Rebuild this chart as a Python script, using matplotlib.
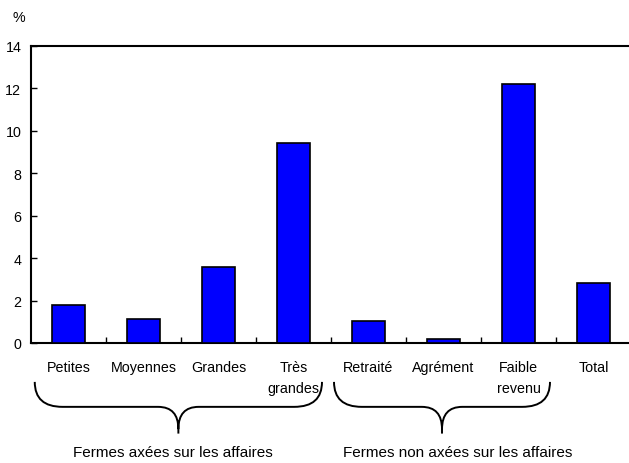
import numpy as np
import matplotlib.pyplot as plt
from matplotlib.path import Path
from matplotlib.patches import PathPatch
from matplotlib.transforms import blended_transform_factory

plt.rcParams['font.family'] = ['Liberation Sans', 'DejaVu Sans']

categories = ["Petites", "Moyennes", "Grandes", "Très\ngrandes",
              "Retraité", "Agrément", "Faible\nrevenu", "Total"]
values = [1.8, 1.15, 3.6, 9.45, 1.05, 0.2, 12.2, 2.85]
yticks = [0, 2, 4, 6, 8, 10, 12, 14]

# groupes sous l'axe: (debut, fin, centre du texte, texte)
groups = [(-0.45, 3.38, 1.39, "Fermes axées sur les affaires"),
          (3.54, 6.42, 5.19, "Fermes non axées sur les affaires")]

fig = plt.figure(figsize=(6.29, 4.64), dpi=100)
ax = fig.add_axes([31/629, 120/464, 600/629, 297/464])

x = np.arange(len(categories))
ax.bar(x, values, width=0.43, color='#0000FF', edgecolor='black', linewidth=1.2, zorder=3)

ax.set_xlim(-0.5, 7.5)
ax.set_ylim(0, 14)
ax.set_yticks(yticks)
ax.set_xticks(x)
ax.set_xticklabels(categories, fontsize=10.3, linespacing=1.7, va='top')
ax.set_xticks(np.arange(0.5, 7), minor=True)
ax.tick_params(axis='x', which='major', length=0, pad=12)
ax.tick_params(axis='x', which='minor', direction='in', length=4, width=1)
ax.tick_params(axis='y', direction='in', length=4, width=1, pad=7, labelsize=10.3)

for s in ['left', 'bottom', 'top']:
    ax.spines[s].set_linewidth(1.5)
ax.spines['right'].set_visible(False)

fig.text(19/629, 1 - 18/464, "%", fontsize=10.3, ha='center', va='center')

# accolades
tr = blended_transform_factory(ax.transData, ax.transAxes)
ytop, ymid, yend, ytip = -0.131, -0.215, -0.29, -0.305
r = 0.37
r2 = 0.27
for x0, x1, xt, label in groups:
    xc = (x0 + x1) / 2
    verts = [(x0, ytop), (x0, ymid), (x0 + r, ymid),
             (xc - r2, ymid), (xc, ymid), (xc, yend),
             (xc, ytip),
             (xc, yend), (xc, ymid), (xc + r2, ymid),
             (x1 - r, ymid), (x1, ymid), (x1, ytop)]
    codes = [Path.MOVETO, Path.CURVE3, Path.CURVE3,
             Path.LINETO, Path.CURVE3, Path.CURVE3,
             Path.LINETO,
             Path.MOVETO, Path.CURVE3, Path.CURVE3,
             Path.LINETO, Path.CURVE3, Path.CURVE3]
    patch = PathPatch(Path(verts, codes), transform=tr, facecolor='none',
                      edgecolor='black', linewidth=1.4, clip_on=False)
    ax.add_patch(patch)
    ax.text(xt, -0.367, label, transform=tr, ha='center', va='center', fontsize=11)

fig.savefig("out.png", dpi=100)
